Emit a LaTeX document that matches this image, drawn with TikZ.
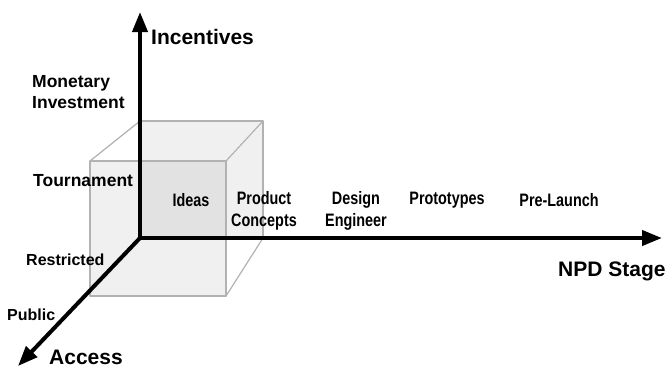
\documentclass[tikz,border=0pt]{standalone}
\usepackage{fontspec}
\setmainfont{Liberation Sans}
\newfontfamily\narrowsans{Liberation Sans}[FakeStretch=0.8]
\usepackage{tikz}
\usepackage{tkz-euclide}
\usetikzlibrary{arrows.meta}

\begin{document}
\begin{tikzpicture}[x=1pt,y=-1pt,
        axis/.style={line width=4pt,-{Triangle[length=20pt,width=15pt]}},
        edge/.style={draw=black!30,line width=1.2pt},
        face/.style={fill=black,fill opacity=.06,draw=none},
        axislabel/.style={inner sep=0pt,anchor=west,font=\bfseries\fontsize{21}{24}\selectfont},
        sidelabel/.style={inner sep=0pt,anchor=west,align=left,font=\bfseries\fontsize{17.5}{21}\selectfont},
        stagelabel/.style={inner sep=0pt,align=center,font=\narrowsans\bfseries\fontsize{18}{22}\selectfont}]
        \useasboundingbox (0,0) rectangle (669,368);

        \tkzDefPoint(90,161){F_1}
        \tkzDefPoint(226,161){F_2}
        \tkzDefPoint(226,296){F_3}
        \tkzDefPoint(90,296){F_4}

        \tkzDefPoint(140,121){B_1}
        \tkzDefPoint(263,121){B_2}
        \tkzDefPoint(263,238){B_3}
        \tkzDefPoint(140,238){B_4}

        \tkzDefPoint(140,12){T}
        \tkzDefPoint(662,238){R}
        \tkzDefPoint(18,366){S}

        \tkzFillPolygon[face](B_1,B_2,B_3,B_4)
        \tkzFillPolygon[face](F_1,F_2,F_3,F_4)

        \tkzDrawSegments[edge](F_1,F_2 F_2,F_3 F_3,F_4 F_4,F_1 B_1,B_2 B_2,B_3 F_1,B_1 F_2,B_2 F_3,B_3)

        \tkzDrawSegment[axis](B_4,T)
        \tkzDrawSegment[axis](B_4,R)
        \tkzDrawSegment[axis](B_4,S)

        \node[axislabel] (incentives) at (151,37) {Incentives};
        \node[axislabel] (npd) at (558,271) {NPD Stage};
        \node[axislabel] (access) at (49,357) {Access};

        \node[sidelabel] (monetary) at (32,92) {Monetary\\Investment};
        \node[sidelabel] (tournament) at (33,181) {Tournament};
        \node[sidelabel,font=\bfseries\fontsize{16}{19}\selectfont] (restricted) at (26,260) {Restricted};
        \node[sidelabel,font=\bfseries\fontsize{16}{19}\selectfont] (public) at (7,315) {Public};

        \node[stagelabel] (ideas) at (191,200) {Ideas};
        \node[stagelabel] (concepts) at (264,211) {Product\\Concepts};
        \node[stagelabel] (design) at (356,211) {Design\\Engineer};
        \node[stagelabel] (prototypes) at (447,200) {Prototypes};
        \node[stagelabel] (prelaunch) at (559,200) {Pre-Launch};
    \end{tikzpicture}
\end{document}
